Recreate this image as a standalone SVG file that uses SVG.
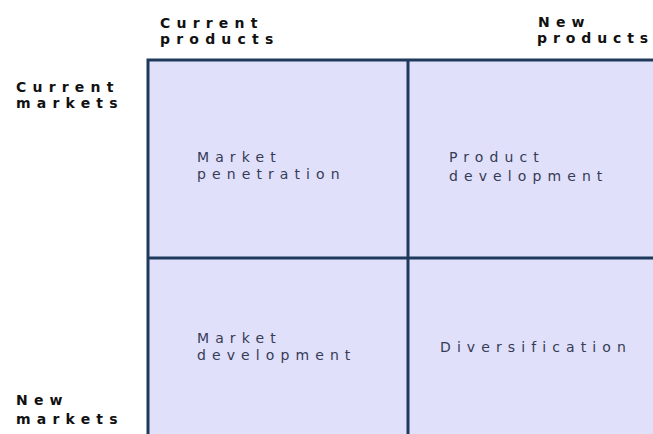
<svg xmlns="http://www.w3.org/2000/svg" width="653" height="434" viewBox="0 0 653 434">
<style>
.hdr{font-family:"DejaVu Sans",Verdana,sans-serif;font-weight:bold;font-size:14px;letter-spacing:6.2px;fill:#111}
.cell{font-family:"DejaVu Sans",Verdana,sans-serif;font-size:14px;letter-spacing:6.1px;fill:#363b55}
.box{fill:#e0e0fb}
.ln{stroke:#1f3a5c;stroke-width:3;fill:none}
</style>
<rect width="653" height="434" fill="#ffffff"/>
<g id="headers">
<text class="hdr" x="160" y="28">Current</text>
<text class="hdr" x="160" y="44">products</text>
<text class="hdr" x="538" y="27">New</text>
<text class="hdr" x="537" y="43" style="letter-spacing:5.9px">products</text>
<text class="hdr" x="16" y="92">Current</text>
<text class="hdr" x="16" y="108">markets</text>
<text class="hdr" x="16" y="405">New</text>
<text class="hdr" x="16" y="424">markets</text>
</g>
<g id="cell-tl">
<rect class="box" x="148" y="60" width="260" height="198"/>
<text class="cell" x="197" y="162">Market</text>
<text class="cell" x="197" y="179">penetration</text>
</g>
<g id="cell-tr">
<rect class="box" x="408" y="60" width="245" height="198"/>
<text class="cell" x="449" y="162">Product</text>
<text class="cell" x="449" y="181">development</text>
</g>
<g id="cell-bl">
<rect class="box" x="148" y="258" width="260" height="176"/>
<text class="cell" x="197" y="343">Market</text>
<text class="cell" x="197" y="360">development</text>
</g>
<g id="cell-br">
<rect class="box" x="408" y="258" width="245" height="176"/>
<text class="cell" x="440" y="352">Diversification</text>
</g>
<g id="connectors">
<path class="ln" d="M148,434 V60 H653"/>
<path class="ln" d="M408,60 V434"/>
<path class="ln" d="M148,258 H653"/>
</g>
</svg>
